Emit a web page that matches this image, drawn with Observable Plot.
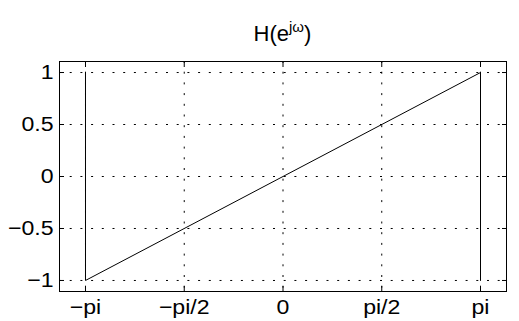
<!DOCTYPE html>
<html>
<head>
<meta charset="utf-8">
<script src="https://cdn.jsdelivr.net/npm/d3@7"></script>
<script src="https://cdn.jsdelivr.net/npm/@observablehq/plot@0.6"></script>
<style>
  html, body { margin: 0; padding: 0; background: #fff; }
  #wrap { position: relative; width: 519px; height: 321px; overflow: hidden; }
  #title { position: absolute; left: 59px; width: 447px; top: 23px; text-align: center;
           font-family: "Liberation Sans", Arial, sans-serif; font-size: 22px; line-height: 22px; color: #000; }
  #title .sup { position: relative; top: -9px; font-size: 15px; line-height: 0; }
</style>
</head>
<body>
<div id="wrap">
  <div id="title">H(e<span class="sup">jω</span>)</div>
</div>
<script>
// data
const omega = [-Math.PI, -Math.PI, Math.PI, Math.PI];
const H = [1, -1, 1, -1];
const xTicks = [-Math.PI, -Math.PI / 2, 0, Math.PI / 2, Math.PI];
const xTickLabels = ["−pi", "−pi/2", "0", "pi/2", "pi"];
const yTicks = [-1, -0.5, 0, 0.5, 1];
const yTickLabels = ["−1", "−0.5", "0", "0.5", "1"];

const data = omega.map((w, i) => ({w, h: H[i]}));
const xLab = new Map(xTicks.map((t, i) => [t, xTickLabels[i]]));
const yLab = new Map(yTicks.map((t, i) => [t, yTickLabels[i]]));
const dots = "2,8.7";

const chart = Plot.plot({
  width: 519,
  height: 321,
  marginLeft: 59,
  marginRight: 13,
  marginTop: 61,
  marginBottom: 30,
  style: {fontFamily: "'Liberation Sans', Arial, sans-serif", fontSize: "21px", background: "white", color: "black"},
  x: {domain: [-3.555, 3.555], label: null},
  y: {domain: [-1.106, 1.106], label: null},
  marks: [
    Plot.gridX(xTicks, {stroke: "black", strokeOpacity: 1, strokeDasharray: dots}),
    Plot.gridY(yTicks, {stroke: "black", strokeOpacity: 1, strokeDasharray: dots}),
    Plot.axisX({anchor: "bottom", ticks: xTicks, tickSize: 0, tickPadding: 8, tickFormat: d => xLab.get(d), label: null, fontSize: 21}),
    Plot.axisY({anchor: "left", ticks: yTicks, tickSize: 0, tickPadding: 6, tickFormat: d => yLab.get(d), label: null, fontSize: 21}),
    Plot.axisX({anchor: "bottom", ticks: xTicks, tickSize: -5, tickFormat: () => "", label: null}),
    Plot.axisX({anchor: "top", ticks: xTicks, tickSize: -5, tickFormat: () => "", label: null}),
    Plot.axisY({anchor: "left", ticks: yTicks, tickSize: -5, tickFormat: () => "", label: null}),
    Plot.axisY({anchor: "right", ticks: yTicks, tickSize: -5, tickFormat: () => "", label: null}),
    Plot.frame({stroke: "black", strokeWidth: 1}),
    Plot.line(data, {x: "w", y: "h", stroke: "black", strokeWidth: 1})
  ]
});
// widen tick labels slightly (reference glyphs are horizontally stretched)
d3.select(chart).selectAll('g[aria-label="x-axis tick label"] text, g[aria-label="y-axis tick label"] text')
  .each(function () {
    const t = this.getAttribute("transform") || "";
    this.setAttribute("transform", (t + " scale(1.1,1)").trim());
  });
document.getElementById("wrap").prepend(chart);
</script>
</body>
</html>
